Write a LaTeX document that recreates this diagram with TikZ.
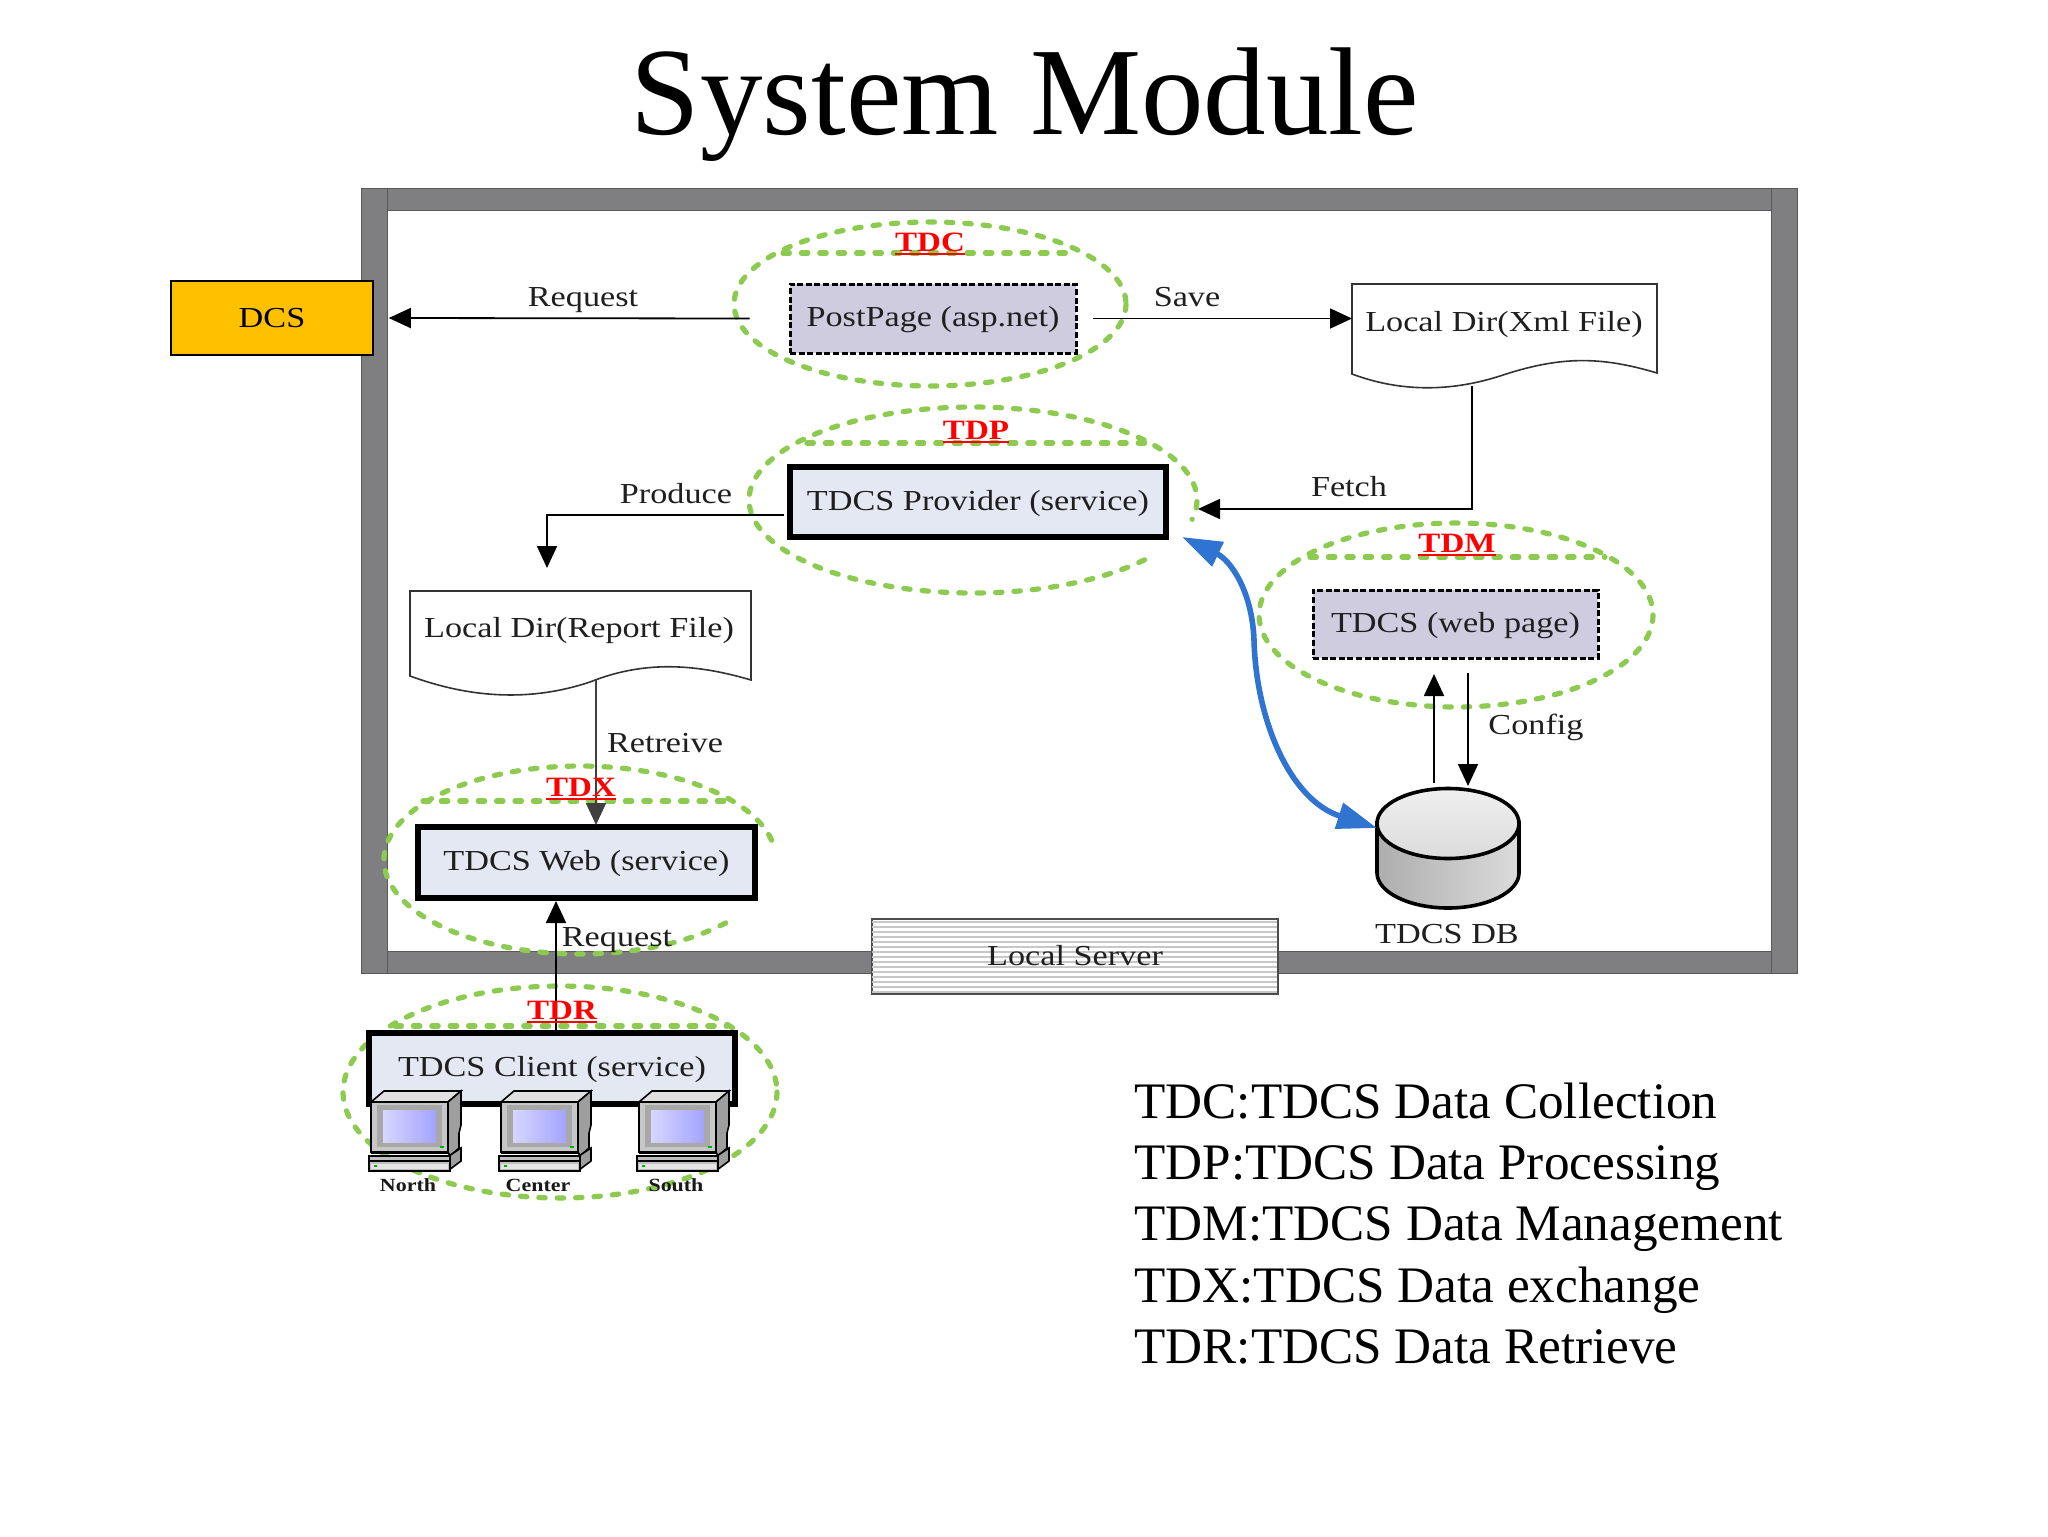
\documentclass[tikz,border=0pt]{standalone}
\usepackage{fontspec}
\setmainfont{Liberation Serif}
\newfontfamily\wide[FakeStretch=1.18]{Liberation Serif}
\usetikzlibrary{arrows.meta,calc}
\definecolor{ringgreen}{HTML}{8CCB50}
\definecolor{framegray}{HTML}{7F7E80}
\definecolor{pagefill}{HTML}{CFCCE0}
\definecolor{svcfill}{HTML}{E4E8F2}
\definecolor{dcsgold}{HTML}{FFC000}
\definecolor{linkblue}{HTML}{2F74D0}
\newcommand\gring[6]{\draw[ring] plot[variable=\t,domain=#5:#6,samples=140] ({#1+#3*cos(\t)},{#2+#4*sin(\t)});}
\newcommand\tdlabel[4]{\node[tdl] (#1) at (#2,#3) {#4};
  \draw[red,line width=1.1pt] ([yshift=-1.6pt]#1.base west) -- ([yshift=-1.6pt]#1.base east);}
\tikzset{
  ring/.style={ringgreen,line width=2.6pt,line cap=round,dash pattern=on 3.2pt off 6pt},
  chord/.style={ringgreen,line width=2.6pt,line cap=round,dash pattern=on 3.2pt off 6pt},
  tdl/.style={anchor=base,inner sep=0pt,text=red,font=\wide\fontsize{14}{16}\selectfont\bfseries},
  txt/.style={inner sep=0pt,font=\wide\fontsize{14.5}{17}\selectfont,text=black!88},
  boxtxt/.style={txt,text height=10pt,text depth=1.6pt},
  small/.style={inner sep=0pt,font=\wide\fontsize{9.3}{11}\selectfont\bfseries,text=black!90},
  legend/.style={anchor=base west,inner sep=0pt,font=\fontsize{25.6}{30}\selectfont},
  pagebox/.style={draw=black,fill=pagefill,line width=1.5pt,dash pattern=on 3pt off 1.3pt,minimum width=#1,inner sep=0pt},
  svcbox/.style={draw=black,fill=svcfill,line width=3pt,inner sep=0pt},
  doc/.style={draw=black!80,fill=white,line width=0.8pt},
  bar/.style={draw=black!65,fill=framegray,line width=0.3pt},
  lnk/.style={draw=black,line width=0.9pt,-{Triangle[length=11pt,width=10pt]}},
  computer/.pic={
    \draw[black,line width=0.8pt,fill=black!12] (2,11) -- (15,0) -- (92,0) -- (79,11) -- cycle;
    \draw[black,line width=0.8pt,fill=black!38] (79,11) -- (92,0) -- (92,34) -- (90,42) -- (90,57) -- (81,65) -- (79,61) -- cycle;
    \draw[black,line width=1pt,fill=black!22] (2,11) rectangle (79,61);
    \fill[black!34] (8,14) rectangle (73,56);
    \shade[left color=blue!16,right color=blue!36] (14,19) rectangle (67,51);
    \fill[green!70!black] (71,55) rectangle (75,56.5);
    \draw[black,line width=1pt] (2,62) -- (79,62);
    \draw[black,line width=0.8pt,fill=black!38] (80,79) -- (92,70) -- (92,57) -- (80,65) -- cycle;
    \draw[black,line width=1pt,fill=black!25] (0,65) rectangle (81,79.5);
    \draw[black,line width=0.9pt] (0,70) -- (81,70);
    \fill[black!10] (2,73) rectangle (79,78);
    \fill[green!70!black] (5,74) rectangle (8,76);
  }
}
\begin{document}
\begin{tikzpicture}[x=0.5pt,y=-0.5pt]
\useasboundingbox (0,0) rectangle (2048,1536);
\fill[white] (0,0) rectangle (2048,1536);
\node[anchor=base,inner sep=0pt,font=\fontsize{62.5}{70}\selectfont] (title) at (1025,134) {System Module};

% frame
\draw[bar] (361,188) rectangle (1797,210);
\draw[bar] (361,951) rectangle (1797,973);
\draw[bar] (361,188) rectangle (387,973);
\draw[bar] (1771,188) rectangle (1797,973);

% rings
\gring{930}{304}{196}{82}{0}{360}
\draw[chord] (783,253) -- (1072,253);
\gring{973}{500}{224}{93}{40}{372}
\draw[chord] (807,443) -- (1146,443);
\gring{1456}{615}{197}{92}{0}{360}
\draw[chord] (1310,557) -- (1605,557);
\gring{580}{860}{196}{94}{42}{350}
\draw[chord] (423,801) -- (728,801);
\gring{560}{1092}{217}{106}{0}{360}
\draw[chord] (395,1026) -- (727,1026);

% local server
\node[draw=black!70,fill=white,line width=0.6pt,minimum width=203pt,minimum height=37.5pt,inner sep=0pt] (server) at (1075,956.5) {};
\foreach \k in {0,...,14}{ \draw[black!22,line width=1.1pt] (872,{922+5*\k}) -- (1277,{922+5*\k}); }
\node[txt] (servertext) at (1075,956) {Local Server};

% plain boxes
\node[draw=black,fill=dcsgold,line width=0.8pt,minimum width=101pt,minimum height=37pt,inner sep=0pt,font=\wide\fontsize{14.5}{17}\selectfont] (dcs) at (272,318) {DCS};
\node[pagebox=143pt,minimum height=34.5pt,boxtxt] (post) at (933,318.5) {PostPage (asp.net)};
\node[pagebox=142.5pt,minimum height=34pt,boxtxt] (web) at (1455.5,624) {TDCS (web page)};
\node[svcbox,boxtxt,minimum width=188pt,minimum height=35pt,inner sep=0pt] (prov) at (978,502) {TDCS Provider (service)};
\node[svcbox,boxtxt,minimum width=168.5pt,minimum height=35.5pt,inner sep=0pt] (svcweb) at (586.5,862.5) {TDCS Web (service)};
\node[svcbox,boxtxt,minimum width=183pt,minimum height=35.5pt,inner sep=0pt] (client) at (552,1068.5) {TDCS Client (service)};

% documents
\draw[doc] (1352,284) -- (1657,284) -- (1657,373) .. controls (1600,356) and (1560,356) .. (1500,376) .. controls (1450,392) and (1400,392) .. (1352,374) -- cycle;
\node[txt] (xml) at (1504,325) {Local Dir(Xml File)};
\draw[doc] (410,591) -- (751,591) -- (751,680) .. controls (690,662) and (640,662) .. (590,682) .. controls (530,702) and (470,698) .. (410,676) -- cycle;
\node[txt] (report) at (579,631) {Local Dir(Report File)};

% database
\shade[left color=black!32,right color=black!14,draw=black,line width=1.8pt] (1377,823) -- (1377,873) .. controls (1377,892) and (1409,908) .. (1448,908) .. controls (1487,908) and (1519,892) .. (1519,873) -- (1519,823) -- cycle;
\draw[black,line width=1.8pt,top color=black!6,bottom color=black!14] (1448,823.5) ellipse [x radius=71,y radius=35];
\node[txt] (dbtext) at (1447,934) {TDCS DB};

% named ends
\coordinate (xmlout) at (1472,386);
\coordinate (fetchin) at (1198,509);
\coordinate (reportout) at (596,680);
\coordinate (svcwebin) at (596,825);
\coordinate (prodout) at (784,515);
\coordinate (prodin) at (547,568);
\coordinate (dbup) at (1434,783);
\coordinate (webup) at (1434,674);
\coordinate (webdown) at (1468,673);
\coordinate (dbdown) at (1468,786);
\coordinate (clientup) at (556,1033);
\coordinate (svcwebup) at (556,901);
\coordinate (blueA) at (1182,537);
\coordinate (blueB) at (1377,828);

% connectors
\draw[lnk] (post.west) ++(-39,0) -- ([xshift=7.5pt]dcs.east);
\draw[lnk] (post.east) ++(15,0) -- (post.east -| 1352,0);
\draw[lnk] (xmlout) |- (fetchin);
\draw[lnk] (prodout) -| (prodin);
\draw[lnk,black!75] (reportout) -- (svcwebin);
\draw[lnk] (dbup) -- (webup);
\draw[lnk] (webdown) -- (dbdown);
\draw[lnk] (clientup) -- (svcwebup);
\draw[linkblue,line width=2.8pt,{Triangle[length=20pt,width=13pt]}-{Triangle[length=20pt,width=13pt]}] (blueA) .. controls (1230,560) and (1252,590) .. (1254,640) .. controls (1256,720) and (1290,800) .. (blueB);

% computers
\pic at (369,1091) {computer};
\pic at (499,1091) {computer};
\pic at (637,1091) {computer};
\node[small] (north) at (408,1185) {North};
\node[small] (center) at (538,1185) {Center};
\node[small] (south) at (676,1185) {South};

% link labels
\node[txt] (l1) at (583,300) {Request};
\node[txt] (l2) at (1187,297) {Save};
\node[txt] (l3) at (1349,487) {Fetch};
\node[txt] (l4) at (676,494) {Produce};
\node[txt] (l5) at (665,743) {Retreive};
\node[txt] (l6) at (1536,727) {Config};
\node[txt] (l7) at (617,940) {Request};

% red tags
\tdlabel{tdc}{930}{251}{TDC}
\tdlabel{tdp}{976}{439}{TDP}
\tdlabel{tdm}{1457}{552}{TDM}
\tdlabel{tdx}{581}{796}{TDX}
\tdlabel{tdr}{562}{1019}{TDR}

% legend
\node[legend] (k1) at (1134,1118) {TDC:TDCS Data Collection};
\node[legend] (k2) at (1134,1179) {TDP:TDCS Data Processing};
\node[legend] (k3) at (1134,1240.5) {TDM:TDCS Data Management};
\node[legend] (k4) at (1134,1302) {TDX:TDCS Data exchange};
\node[legend] (k5) at (1134,1363) {TDR:TDCS Data Retrieve};
\end{tikzpicture}
\end{document}
